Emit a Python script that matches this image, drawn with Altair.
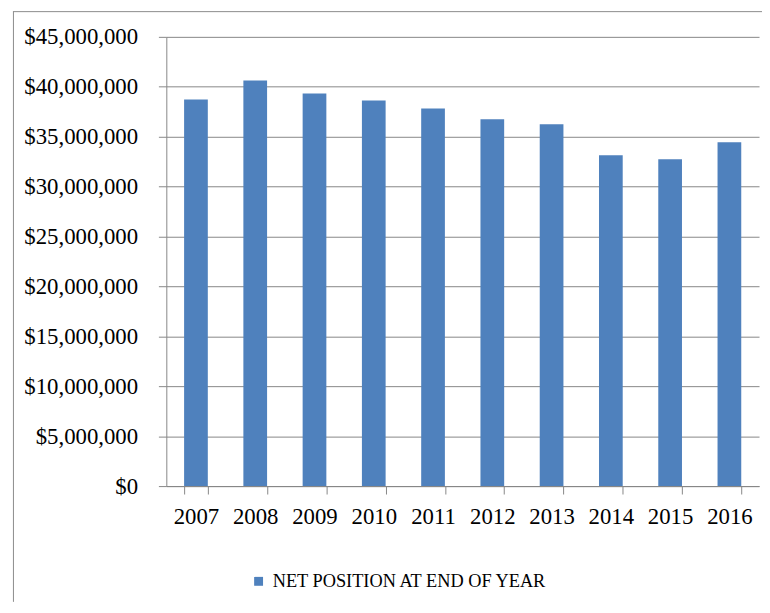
import altair as alt
import pandas as pd

years = ["2007", "2008", "2009", "2010", "2011", "2012", "2013", "2014", "2015", "2016"]
net_position = [38730000, 40620000, 39320000, 38630000, 37830000, 36740000, 36240000, 33150000, 32750000, 34450000]
series_name = "NET POSITION AT END OF YEAR"
y_ticks = [0, 5000000, 10000000, 15000000, 20000000, 25000000, 30000000, 35000000, 40000000, 45000000]

df = pd.DataFrame({"year": years, "value": net_position, "series": [series_name] * len(years)})

FONT = "Liberation Serif"
GRID = "#878787"
BLUE = "#4F81BD"
FRAME = "#8c8c8c"

one = pd.DataFrame({"k": [0]})
border_top = alt.Chart(one).mark_rule(stroke=FRAME, strokeWidth=1).encode(
    x=alt.value(-155), x2=alt.value(602), y=alt.value(-25.5)
)
border_left = alt.Chart(one).mark_rule(stroke=FRAME, strokeWidth=1).encode(
    x=alt.value(-154.5), y=alt.value(-25.5), y2=alt.value(571)
)

bars = alt.Chart(df).mark_bar(color=BLUE).encode(
    x=alt.X("year:N", sort=years, title=None,
            scale=alt.Scale(paddingInner=0.6, paddingOuter=0.3),
            axis=alt.Axis(labelAngle=0, labelFont=FONT, labelFontSize=23, labelColor="black",
                          labelBaseline="middle", labelPadding=23,
                          tickBand="extent", tickSize=8, tickColor=GRID, domainColor=GRID,
                          grid=False, labelFlush=False, labelOverlap=False)),
    y=alt.Y("value:Q", title=None,
            scale=alt.Scale(domain=[0, 45000000], nice=False, zero=True),
            axis=alt.Axis(values=y_ticks, format="$,.0f", labelFont=FONT, labelFontSize=23,
                          labelColor="black", labelPadding=21, tickSize=8, tickColor=GRID,
                          domainColor=GRID, gridColor=GRID, grid=True, labelBaseline="middle")),
    color=alt.Color("series:N", scale=alt.Scale(range=[BLUE]), title=None,
                    legend=alt.Legend(orient="none", legendX=84, legendY=541, direction="horizontal",
                                      symbolType="square", symbolSize=81, symbolStrokeWidth=0,
                                      labelFont=FONT, labelFontSize=18.5, labelColor="black",
                                      labelOffset=5, padding=0, labelLimit=400))
)

chart = alt.layer(bars, border_top, border_left).properties(
    width=599, height=454,
    autosize=alt.AutoSizeParams(type="none"),
    padding={"left": 160, "top": 26, "right": 3, "bottom": 117},
    background="white"
).configure_view(stroke="transparent", strokeWidth=0)

chart.save("out.html", embed_options={"renderer": "svg", "actions": False})
